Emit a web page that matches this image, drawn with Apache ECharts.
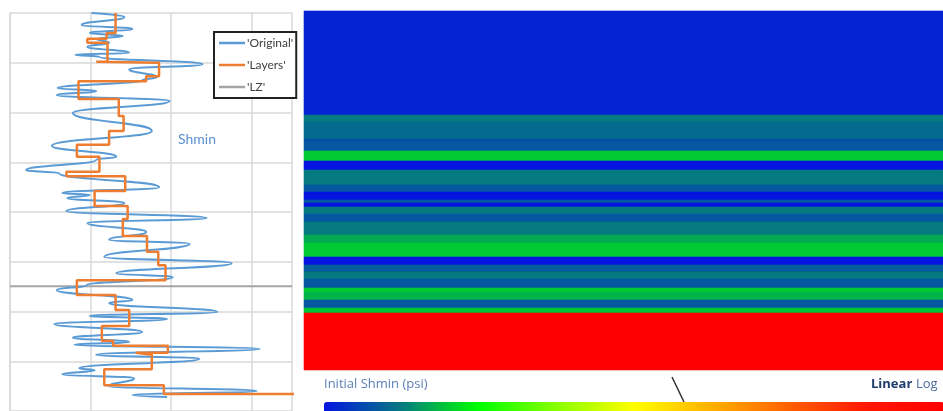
<!DOCTYPE html>
<html>
<head>
<meta charset="utf-8">
<script src="https://cdn.jsdelivr.net/npm/echarts@6/dist/echarts.min.js"></script>
<style>
  html, body { margin: 0; padding: 0; background: #fff; }
  #main { width: 943px; height: 411px; }
</style>
</head>
<body>
<div id="main"></div>
<script>
// Shmin profile vs depth (left) and layered model coloured by Shmin (right)

var origDepth = [0, 0.08, 0.24, 0.32, 0.40, 0.46, 0.52, 0.60, 0.68, 0.80, 0.84, 0.88, 1.03, 1.13, 1.29, 1.35,
  1.51, 1.57, 1.65, 1.77, 2.01, 2.37, 2.67, 2.89, 2.95, 3.16, 3.22, 3.50, 3.62, 3.66, 3.72, 3.82, 3.98,
  4.12, 4.22, 4.40, 4.56, 4.64, 4.90, 5.03, 5.23, 5.31, 5.47, 5.57, 5.77, 5.83, 6.01, 6.09, 6.15, 6.25,
  6.41, 6.53, 6.61, 6.67, 6.75, 6.87, 6.95, 7.14, 7.18, 7.26, 7.34, 7.50, 7.60, 7.68, 7.72];
var origShmin = [1.01, 1.42, 0.89, 1.52, 0.99, 1.40, 1.07, 1.23, 0.96, 1.48, 0.81, 1.11, 2.39, 1.48, 1.82, 1.64,
  0.59, 1.07, 0.58, 1.98, 0.78, 1.76, 0.52, 1.32, 1.07, 0.20, 0.61, 1.85, 0.65, 0.99, 0.71, 1.42, 0.70,
  2.44, 0.96, 1.69, 1.23, 2.23, 1.17, 2.75, 1.32, 2.02, 0.95, 0.58, 1.52, 1.23, 2.57, 0.99, 1.95, 0.55,
  1.64, 0.78, 1.48, 0.80, 3.10, 1.07, 2.35, 0.86, 1.05, 0.65, 1.54, 1.23, 3.06, 1.52, 1.95];

// layer boundaries (depth) and layer value
var layerDepth = [0, 0.40, 0.52, 0.60, 0.98, 1.00, 1.27, 1.37, 1.73, 2.07, 2.37, 2.65, 2.89, 3.19, 3.28, 3.58,
  3.88, 4.14, 4.48, 4.80, 5.07, 5.37, 5.67, 5.97, 6.29, 6.59, 6.69, 6.83, 6.87, 7.16, 7.48, 7.66, 8.0];
var layerShmin = [1.31, 1.20, 0.96, 1.21, 1.07, 1.85, 1.69, 0.85, 1.35, 1.41, 1.23, 0.83, 1.11, 0.70, 1.43, 1.05,
  1.46, 1.40, 1.70, 1.84, 1.93, 0.83, 1.31, 1.48, 1.14, 1.28, 1.96, 1.56, 1.76, 1.17, 1.91, 3.6];

var lzDepth = 5.49;

// model bands: boundaries (model depth) and Shmin (psi)
var bandDepth = [0, 104, 111, 128, 131, 140, 150, 159, 174, 181, 189, 192, 196, 203, 211, 224, 232, 246, 254,
  261, 268, 277, 281, 289, 297, 302, 359];
var bandShmin = [5080, 5500, 5420, 5300, 5330, 5800, 5000, 5500, 5330, 5000, 5330, 5000, 5500, 5330, 5500,
  5680, 5800, 5000, 5360, 5500, 5330, 5800, 5720, 5330, 5780, 9000];

var origData = origDepth.map(function (d, i) { return [origShmin[i], d]; });
var layerData = [];
layerShmin.forEach(function (v, i) {
  layerData.push([v, layerDepth[i]]);
  layerData.push([v, layerDepth[i + 1]]);
});
var bandData = bandShmin.map(function (v, i) { return [bandDepth[i], bandDepth[i + 1], v]; });

var chart = echarts.init(document.getElementById('main'));

var option = {
  backgroundColor: '#fff',
  animation: false,
  textStyle: { fontFamily: 'Lato' },
  grid: [
    { left: 10, top: 13, width: 282, height: 398 },
    { left: 304, top: 11, width: 639, height: 359 }
  ],
  xAxis: [
    {
      gridIndex: 0, type: 'value', min: 0, max: 3.5, interval: 1,
      axisLine: { show: false }, axisTick: { show: false }, axisLabel: { show: false },
      splitLine: { show: true, lineStyle: { color: '#d9d9d9', width: 1.5 } }
    },
    {
      gridIndex: 1, type: 'value', min: 0, max: 1, show: false
    }
  ],
  yAxis: [
    {
      gridIndex: 0, type: 'value', min: 0, max: 8, interval: 1, inverse: true,
      axisLine: { show: true, lineStyle: { color: '#d9d9d9', width: 1.5 } },
      axisTick: { show: false }, axisLabel: { show: false },
      splitLine: { show: true, lineStyle: { color: '#d9d9d9', width: 1.5 } }
    },
    {
      gridIndex: 1, type: 'value', min: 0, max: 359, inverse: true, show: false
    }
  ],
  legend: {
    orient: 'vertical',
    left: 214, top: 32,
    padding: [5, 3, 5, 5],
    itemGap: 10,
    icon: 'rect',
    itemWidth: 26, itemHeight: 2.5,
    backgroundColor: '#fff',
    borderColor: '#222', borderWidth: 2,
    textStyle: { fontSize: 12, color: '#404040', fontFamily: 'Lato', padding: [0, 0, 0, -3] },
    data: ["'Original'", "'Layers'", "'LZ'"]
  },
  visualMap: {
    type: 'continuous',
    seriesIndex: 3,
    dimension: 2,
    min: 5000, max: 9000,
    orient: 'horizontal',
    left: 324, top: 402,
    padding: 0,
    itemWidth: 12, itemHeight: 620,
    calculable: false,
    hoverLink: false,
    inRange: {
      color: ['#0414e0', '#057a80', '#00ff00', '#88ff00', '#ffff00', '#ffb000', '#ff6000', '#ff1800', '#ff0000']
    }
  },
  graphic: [
    { type: 'text', left: 178, top: 132, style: { text: 'Shmin', fill: '#5b8fd0', font: '14px Lato' } },
    { type: 'text', left: 324, top: 378, style: { text: 'Initial Shmin (psi)', fill: '#5a7fb5', font: '13px "Open Sans"' } },
    { type: 'text', left: 871, top: 378, style: { text: 'Linear', fill: '#1e3c6c', font: 'bold 13px "Open Sans"' } },
    { type: 'text', left: 916, top: 378, style: { text: 'Log', fill: '#4a6a9a', font: '13px "Open Sans"' } },
    { type: 'line', shape: { x1: 672, y1: 377, x2: 684, y2: 402 }, style: { stroke: '#333', lineWidth: 1.5 } }
  ],
  series: [
    {
      name: "'Original'",
      type: 'line',
      xAxisIndex: 0, yAxisIndex: 0,
      data: origData,
      symbol: 'none',
      smooth: 0.5,
      smoothMonotone: 'y',
      color: '#5b9bd5',
      lineStyle: { width: 2, color: '#5b9bd5' },
      z: 3
    },
    {
      name: "'Layers'",
      type: 'line',
      xAxisIndex: 0, yAxisIndex: 0,
      data: layerData,
      symbol: 'none',
      color: '#ed7d31',
      lineStyle: { width: 2.5, color: '#ed7d31' },
      z: 4
    },
    {
      name: "'LZ'",
      type: 'line',
      xAxisIndex: 0, yAxisIndex: 0,
      data: [[0, lzDepth], [3.5, lzDepth]],
      symbol: 'none',
      color: '#a5a5a5',
      lineStyle: { width: 2, color: '#a5a5a5' },
      z: 2
    },
    {
      name: 'model',
      type: 'custom',
      xAxisIndex: 1, yAxisIndex: 1,
      data: bandData,
      encode: { y: [0, 1] },
      renderItem: function (params, api) {
        var p1 = api.coord([0, api.value(0)]);
        var p2 = api.coord([1, api.value(1)]);
        var c = api.visual('color');
        return {
          type: 'rect',
          shape: { x: p1[0], y: p1[1], width: p2[0] - p1[0], height: p2[1] - p1[1] },
          style: { fill: c, stroke: c, lineWidth: 0.6 }
        };
      }
    }
  ]
};

chart.setOption(option);
</script>
</body>
</html>
